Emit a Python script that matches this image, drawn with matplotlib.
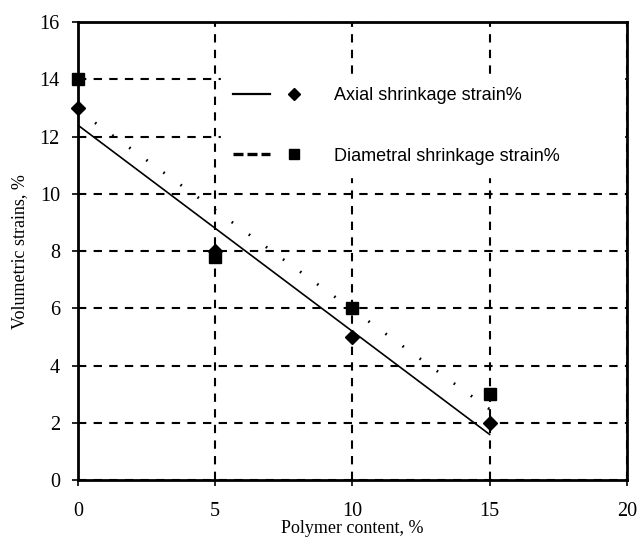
import numpy as np
import matplotlib
matplotlib.use("Agg")
import matplotlib.pyplot as plt
from matplotlib.legend_handler import HandlerTuple

# data
polymer = [0, 5, 10, 15]
axial = [13, 8, 5, 2]
diametral = [14, 7.8, 6, 3]

xticks = [0, 5, 10, 15, 20]
yticks = [0, 2, 4, 6, 8, 10, 12, 14, 16]

plt.rcParams["font.family"] = ["Liberation Serif", "DejaVu Serif"]

fig = plt.figure(figsize=(6.39, 5.39), dpi=100)
ax = fig.add_axes([0.122, 0.109, 0.859, 0.850])

ax.set_xlim(0, 20)
ax.set_ylim(0, 16)
ax.set_xticks(xticks)
ax.set_yticks(yticks)
ax.tick_params(labelsize=14.5, direction="out", length=4, width=1.2)
ax.tick_params(axis="x", pad=12)
ax.tick_params(axis="y", pad=9)

ax.grid(True, color="black", linestyle=(0, (4, 3.5)), linewidth=1.5)
ax.set_axisbelow(True)
for side in ax.spines:
    ax.spines[side].set_linewidth(2)

# linear trend lines
xs = np.array([polymer[0], polymer[-1]])
ka, ba = np.polyfit(polymer, axial, 1)
kd, bd = np.polyfit(polymer, diametral, 1)
ax.plot(xs, ka * xs + ba, color="black", lw=1.2)
ax.plot(xs, kd * xs + bd, color="black", lw=2, linestyle=(0, (0.6, 7)))

ax.plot(polymer, axial, ls="", marker="D", ms=7, color="black",
        clip_on=False, zorder=4)
ax.plot(polymer, diametral, ls="", marker="s", ms=9, color="black",
        clip_on=False, zorder=4)

la_h = plt.Line2D([], [], color="black", lw=1.6)
ma_h = plt.Line2D([], [], ls="", marker="D", ms=6, color="black")
ld_h = plt.Line2D([], [], color="black", lw=2.4, linestyle=(0, (3, 1.2)))
md_h = plt.Line2D([], [], ls="", marker="s", ms=7, color="black")
leg = ax.legend([(la_h, ma_h), (ld_h, md_h)],
                ["Axial shrinkage strain%", "Diametral shrinkage strain%"],
                handler_map={tuple: HandlerTuple(ndivide=None, pad=0.3)},
                loc="upper left", bbox_to_anchor=(0.26, 0.66, 0.735, 0.225),
                mode="expand", borderaxespad=0, borderpad=0.7,
                handlelength=4.4, handletextpad=1.2, labelspacing=2.4,
                frameon=True, framealpha=1, edgecolor="white", fancybox=False,
                prop={"family": "Liberation Sans", "size": 13})

ax.set_xlabel("Polymer content, %", fontsize=13, labelpad=-1)
ax.set_ylabel("Volumetric strains, %", fontsize=13, labelpad=8)

fig.savefig("out.png", dpi=100)
